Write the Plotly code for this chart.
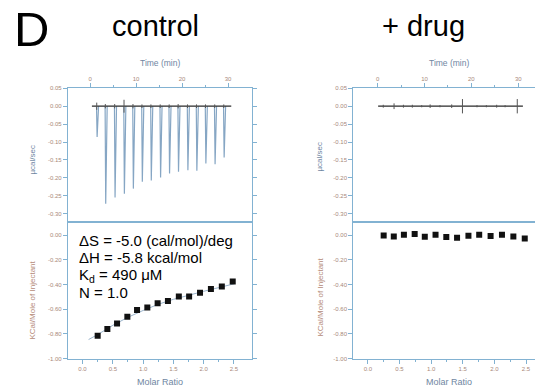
import plotly.graph_objects as go

# page body has an 8px margin, so the figure is drawn 8px smaller and positions are offset
OFF = 8
W, H = 543 - OFF, 390 - OFF

# ---------------- data ----------------
# control: raw ITC trace (injection times in min, peak heights in µcal/sec)
ctrl_inj_time = [1.45, 3.32, 5.35, 7.38, 9.33, 11.28, 13.23, 15.25, 17.2, 19.15, 21.19, 23.14, 25.1, 27.1, 29.07]
ctrl_inj_peak = [-0.086, -0.272, -0.255, -0.244, -0.230, -0.211, -0.207, -0.199, -0.188, -0.183, -0.179, -0.180, -0.160, -0.162, -0.143]
ctrl_mark_amp = [0.010, 0.006, 0.006, 0.018, 0.006, 0.005, 0.005, 0.005, 0.005, 0.006, 0.005, 0.005, 0.005, 0.005, 0.005]
ctrl_base = [0.4, 30.7]

# + drug: raw trace is flat, with small noise marks
drug_mark_time = [1.2, 3.5, 5.5, 7.4, 9.4, 11.2, 13.3, 15.8, 18.1, 21.2, 23.2, 25.4, 27.2, 29.8]
drug_mark_amp = [0.004, 0.008, 0.004, 0.004, 0.003, 0.005, 0.003, 0.005, 0.020, 0.003, 0.003, 0.004, 0.003, 0.020]
drug_base = [0.1, 31.0]

# integrated heats
molar_ratio = [0.25, 0.41, 0.57, 0.74, 0.90, 1.07, 1.24, 1.41, 1.59, 1.76, 1.94, 2.12, 2.30, 2.48]
ctrl_heat = [-0.815, -0.759, -0.715, -0.661, -0.607, -0.585, -0.551, -0.534, -0.497, -0.497, -0.467, -0.437, -0.416, -0.375]
drug_heat = [-0.003, -0.011, 0.003, 0.008, -0.014, 0.003, -0.016, -0.022, -0.005, 0.003, -0.008, 0.003, -0.011, -0.027]
fit_ratio = [0.10, 0.25, 0.50, 0.75, 1.00, 1.25, 1.50, 1.75, 2.00, 2.25, 2.50]
fit_heat = [-0.845, -0.805, -0.73, -0.665, -0.61, -0.56, -0.52, -0.485, -0.455, -0.425, -0.395]

raw_yticks = [0.05, 0.0, -0.05, -0.10, -0.15, -0.20, -0.25, -0.30]
raw_yticktext = ["0.05", "0.00", "-0.05", "-0.10", "-0.15", "-0.20", "-0.25", "-0.30"]
heat_yticks = [0.0, -0.2, -0.4, -0.6, -0.8, -1.0]
heat_yticktext = ["0.00", "-0.20", "-0.40", "-0.60", "-0.80", "-1.00"]
ratio_ticks = [0.0, 0.5, 1.0, 1.5, 2.0, 2.5]
ratio_ticktext = ["0.0", "0.5", "1.0", "1.5", "2.0", "2.5"]
time_ticks = [0, 10, 20, 30]
time_ticktext = ["0", "10", "20", "30"]

stats_lines = ["ΔS = -5.0 (cal/mol)/deg", "ΔH = -5.8 kcal/mol", "K<sub>d</sub> = 490 μM", "N = 1.0"]

# ---------------- styling ----------------
FONT = "Liberation Sans, Arial, sans-serif"
AX = "#82b2d2"
TICKC = "#a8887a"
TITLE_BLUE = "#6f86a2"
TITLE_ORG = "#b48a78"
SPIKE = "#86a6c4"


def X(px):
    return (px - OFF) / W


def Y(py):
    return 1 - (py - OFF) / H


def spikes(times, peaks):
    xs, ys = [], []
    for t, p in zip(times, peaks):
        xs += [t - 0.05, t + 0.08, t + 0.4, None]
        ys += [0, p, 0, None]
    return xs, ys


def marks(times, amps):
    xs, ys = [], []
    for t, a in zip(times, amps):
        xs += [t, t, None]
        ys += [-a, a, None]
    return xs, ys


fig = go.Figure()

# control raw
sx, sy = spikes(ctrl_inj_time, ctrl_inj_peak)
fig.add_trace(go.Scatter(x=sx, y=sy, mode="lines", line=dict(color=SPIKE, width=1.2),
                         xaxis="x", yaxis="y", hoverinfo="skip"))
fig.add_trace(go.Scatter(x=ctrl_base, y=[0, 0], mode="lines", line=dict(color="#2a2a2a", width=1.3),
                         xaxis="x", yaxis="y", hoverinfo="skip"))
mx, my = marks(ctrl_inj_time, ctrl_mark_amp)
fig.add_trace(go.Scatter(x=mx, y=my, mode="lines", line=dict(color="#555555", width=1),
                         xaxis="x", yaxis="y", hoverinfo="skip"))

# drug raw
fig.add_trace(go.Scatter(x=drug_base, y=[0, 0], mode="lines", line=dict(color="#2a2a2a", width=1.3),
                         xaxis="x3", yaxis="y3", hoverinfo="skip"))
mx, my = marks(drug_mark_time, drug_mark_amp)
fig.add_trace(go.Scatter(x=mx, y=my, mode="lines", line=dict(color="#555555", width=1),
                         xaxis="x3", yaxis="y3", hoverinfo="skip"))

# control heats
fig.add_trace(go.Scatter(x=fit_ratio, y=fit_heat, mode="lines", line=dict(color="#9ab4cc", width=1),
                         xaxis="x2", yaxis="y2", hoverinfo="skip"))
fig.add_trace(go.Scatter(x=molar_ratio, y=ctrl_heat, mode="markers",
                         marker=dict(symbol="square", size=6, color="#111111"),
                         xaxis="x2", yaxis="y2"))
# drug heats
fig.add_trace(go.Scatter(x=molar_ratio, y=drug_heat, mode="markers",
                         marker=dict(symbol="square", size=6, color="#111111"),
                         xaxis="x4", yaxis="y4"))

Lx = [X(68), X(251.5)]
Rx = [X(353.3), X(539.3)]
Ty = [Y(222.3), Y(88.3)]
By = [Y(358.7), Y(222.3)]

tickfont = dict(family=FONT, size=6, color=TICKC)


def xax(domain, rng, tv, tt, side, anchor, minor_vals):
    return dict(domain=domain, range=rng, tickmode="array", tickvals=tv, ticktext=tt,
                side=side, anchor=anchor, showgrid=False, zeroline=False, automargin=False,
                showline=True, linecolor=AX, linewidth=1.2, mirror=True,
                ticks="outside", ticklen=4, tickcolor=AX, tickwidth=1,
                tickfont=tickfont,
                minor=dict(tickmode="array", tickvals=minor_vals, ticks="outside",
                           ticklen=2, tickcolor=AX))


def yax(domain, rng, tv, tt, anchor):
    return dict(domain=domain, range=rng, tickmode="array", tickvals=tv, ticktext=tt,
                anchor=anchor, showgrid=False, zeroline=False, automargin=False,
                showline=True, linecolor=AX, linewidth=1.2, mirror="allticks",
                ticks="outside", ticklen=4, tickcolor=AX, tickwidth=1,
                tickfont=tickfont)


time_minor = [5, 15, 25]
ratio_minor = [0.25, 0.75, 1.25, 1.75, 2.25]

fig.update_layout(
    width=W, height=H, margin=dict(l=0, r=0, t=0, b=0, autoexpand=False),
    paper_bgcolor="white", plot_bgcolor="white", showlegend=False,
    font=dict(family=FONT),
    xaxis=xax(Lx, [-4.8, 35.1], time_ticks, time_ticktext, "top", "y", time_minor),
    yaxis=yax(Ty, [-0.324, 0.05], raw_yticks, raw_yticktext, "x"),
    xaxis2=xax(Lx, [-0.24, 2.79], ratio_ticks, ratio_ticktext, "bottom", "y2", ratio_minor),
    yaxis2=yax(By, [-1.0, 0.103], heat_yticks, heat_yticktext, "x2"),
    xaxis3=xax(Rx, [-5.2, 34.5], time_ticks, time_ticktext, "top", "y3", time_minor),
    yaxis3=yax(Ty, [-0.324, 0.05], raw_yticks, raw_yticktext, "x3"),
    xaxis4=xax(Rx, [-0.23, 2.71], ratio_ticks, ratio_ticktext, "bottom", "y4", ratio_minor),
    yaxis4=yax(By, [-1.0, 0.103], heat_yticks, heat_yticktext, "x4"),
)

ann = []


def text(x, y, s, size, color="black", xanchor="center", yanchor="middle", angle=0):
    ann.append(dict(x=X(x), y=Y(y), xref="paper", yref="paper", text=s, showarrow=False,
                    xanchor=xanchor, yanchor=yanchor, textangle=angle,
                    font=dict(family=FONT, size=size, color=color)))


# panel headings
text(31, 29, "D", 49)
text(155, 26, "control", 29)
text(423, 26, "+ drug", 29)

# axis titles
for cx in (160, 449):
    text(cx, 63, "Time (min)", 8.5, TITLE_BLUE)
    text(cx, 382, "Molar Ratio", 9, TITLE_BLUE)
text(31.5, 160, "µcal/sec", 8, TITLE_BLUE, angle=-90)
text(319.5, 157, "µcal/sec", 8, TITLE_BLUE, angle=-90)
text(31.5, 300, "KCal/Mole of Injectant", 8, TITLE_ORG, angle=-90)
text(319.5, 297, "KCal/Mole of Injectant", 8, TITLE_ORG, angle=-90)

# fit statistics
for i, s in enumerate(stats_lines):
    text(77, 240 + 17.5 * i, s, 15, "black", xanchor="left")

fig.update_layout(annotations=ann)

fig.write_html("out.html")
